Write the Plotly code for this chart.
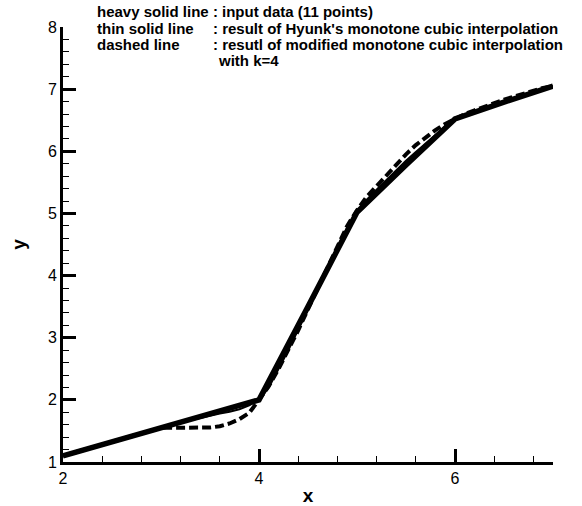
import plotly.graph_objects as go

# Input data (heavy solid line, 11 points)
x_data = [2.0, 2.5, 3.0, 3.5, 4.0, 4.5, 5.0, 5.5, 6.0, 6.5, 7.0]
y_data = [1.10, 1.33, 1.55, 1.78, 2.00, 3.50, 5.02, 5.78, 6.52, 6.79, 7.05]

x_curve = [2.0, 2.1, 2.2, 2.3, 2.4, 2.5, 2.6, 2.7, 2.8, 2.9,
           3.0, 3.1, 3.2, 3.3, 3.4, 3.5, 3.6, 3.7, 3.8, 3.9,
           4.0, 4.1, 4.2, 4.3, 4.4, 4.5, 4.6, 4.7, 4.8, 4.9,
           5.0, 5.1, 5.2, 5.3, 5.4, 5.5, 5.6, 5.7, 5.8, 5.9,
           6.0, 6.1, 6.2, 6.3, 6.4, 6.5, 6.6, 6.7, 6.8, 6.9, 7.0]

# Thin solid line: Hyunk's monotone cubic interpolation
y_hyunk = [1.10, 1.145, 1.19, 1.235, 1.28, 1.325, 1.37, 1.415, 1.46, 1.505,
           1.55, 1.59, 1.63, 1.67, 1.71, 1.75, 1.78, 1.81, 1.85, 1.91,
           2.00, 2.20, 2.49, 2.80, 3.13, 3.47, 3.80, 4.13, 4.46, 4.77,
           5.02, 5.22, 5.38, 5.54, 5.70, 5.85, 5.99, 6.13, 6.27, 6.40,
           6.52, 6.58, 6.63, 6.69, 6.74, 6.80, 6.85, 6.90, 6.95, 7.00, 7.05]

# Dashed line: modified monotone cubic interpolation with k=4
y_modified = [1.10, 1.145, 1.19, 1.235, 1.28, 1.325, 1.37, 1.415, 1.46, 1.505,
              1.55, 1.55, 1.55, 1.55, 1.55, 1.555, 1.575, 1.62, 1.69, 1.79,
              2.00, 2.22, 2.50, 2.80, 3.12, 3.46, 3.80, 4.14, 4.48, 4.80,
              5.05, 5.27, 5.44, 5.61, 5.79, 5.95, 6.10, 6.23, 6.34, 6.44,
              6.52, 6.60, 6.66, 6.72, 6.77, 6.83, 6.88, 6.93, 6.98, 7.02, 7.05]

legend_labels = ["heavy solid line", "thin solid line", "dashed line"]
legend_texts = [": input data (11 points)",
                ": result of Hyunk's monotone cubic interpolation",
                ": resutl of modified monotone cubic interpolation",
                "with k=4"]

FONT = "Liberation Sans, Arial, sans-serif"

fig = go.Figure()
fig.add_trace(go.Scatter(x=x_data, y=y_data, mode="lines",
                         line=dict(color="black", width=5.5), showlegend=False))
fig.add_trace(go.Scatter(x=x_curve, y=y_hyunk, mode="lines",
                         line=dict(color="black", width=2), showlegend=False))
fig.add_trace(go.Scatter(x=x_curve, y=y_modified, mode="lines",
                         line=dict(color="black", width=4, dash="9px,4px"),
                         showlegend=False))

W, H = 582, 506
L, R, T, B = 63, 29, 27, 44
pw, ph = W - L - R, H - T - B

def px(xp):
    return (xp - L) / pw

def py(yp):
    return (H - B - yp) / ph

TXT = dict(family=FONT, size=15, color="black")

def note(x, y, s):
    fig.add_annotation(x=px(x), y=py(y), xref="paper", yref="paper",
                       xanchor="left", yanchor="middle", showarrow=False,
                       text="<b>" + s + "</b>", font=TXT)

note(95, 11.5, legend_labels[0] + " " + legend_texts[0])
note(95, 29, legend_labels[1])
note(95, 45, legend_labels[2])
note(211, 29, legend_texts[1])
note(211, 45, legend_texts[2])
note(216, 60.5, legend_texts[3])

axis_common = dict(showline=True, linecolor="black", linewidth=3,
                   ticks="inside", ticklen=13, tickwidth=3, tickcolor="black",
                   showgrid=False, zeroline=False, automargin=False,
                   tickfont=dict(family=FONT, size=16, color="black"))

fig.update_xaxes(range=[2, 7], dtick=2, tick0=0,
                 minor=dict(dtick=0.4, ticks="inside", ticklen=6, tickwidth=1,
                            tickcolor="black", showgrid=False),
                 title=dict(text="<b>x</b>", standoff=6,
                            font=dict(family=FONT, size=19, color="black")),
                 **axis_common)
fig.update_yaxes(range=[1, 8], dtick=1, tick0=0,
                 minor=dict(dtick=0.2, ticks="inside", ticklen=6, tickwidth=1,
                            tickcolor="black", showgrid=False),
                 title=dict(text="<b>y</b>", standoff=18,
                            font=dict(family=FONT, size=19, color="black")),
                 **axis_common)

fig.update_layout(width=W, height=H,
                  margin=dict(l=L, r=R, t=T, b=B, pad=0),
                  paper_bgcolor="white", plot_bgcolor="white",
                  font=dict(family=FONT, color="black"))

fig.write_html("out.html")
